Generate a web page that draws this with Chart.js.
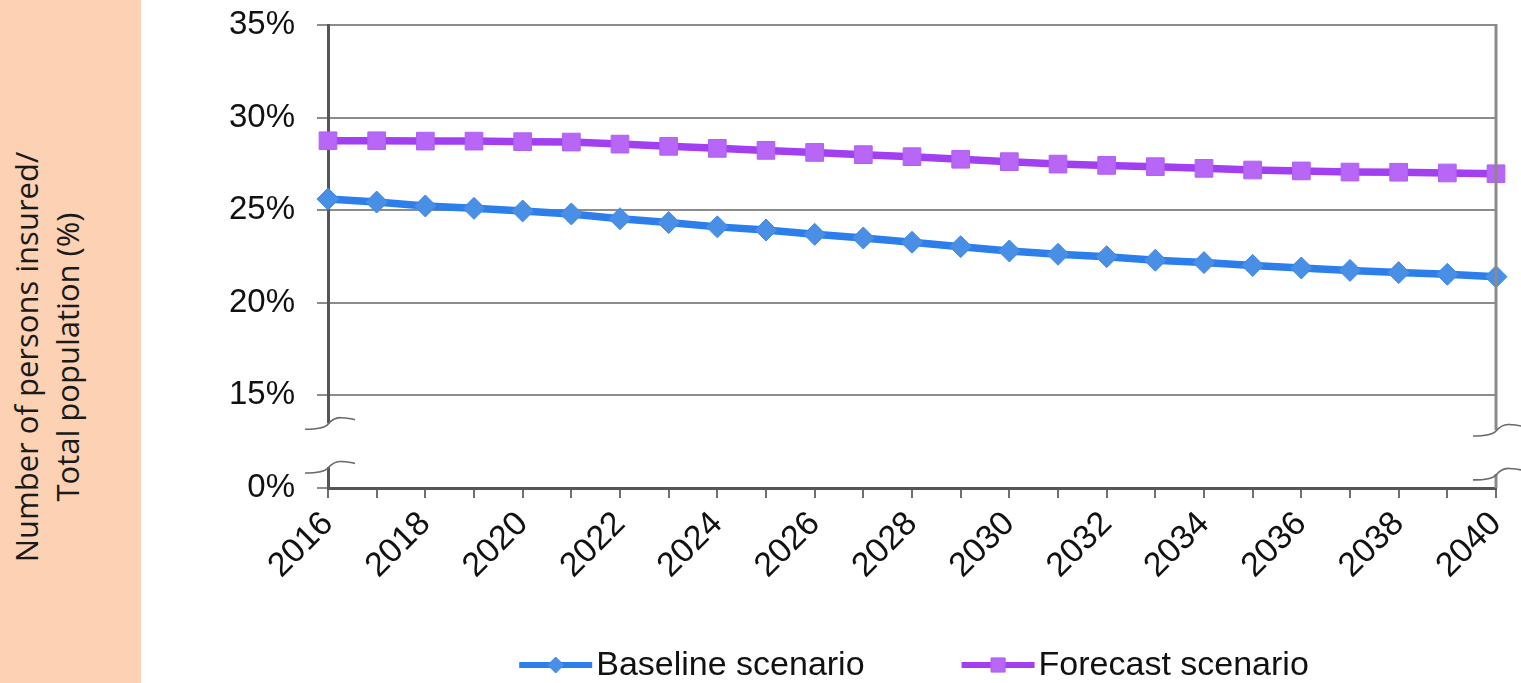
<!DOCTYPE html>
<html>
<head>
<meta charset="utf-8">
<script src="https://cdn.jsdelivr.net/npm/chart.js@4.4.1/dist/chart.umd.min.js"></script>
<style>
  html, body { margin: 0; padding: 0; background: #ffffff; }
  #page { position: relative; width: 1521px; height: 683px; overflow: hidden; }
  #side { position: absolute; left: 0; top: 0; width: 141px; height: 683px; background: #fdd1b3; }
  #side-title {
    position: absolute; left: 47px; top: 357px;
    transform: translate(-50%, -50%) rotate(-90deg);
    white-space: nowrap; text-align: center;
    font-family: "Open Sans", sans-serif; font-size: 31px; line-height: 41px; color: #1a1a1a;
  }
  #chart-wrap { position: absolute; left: 141px; top: 0; width: 1380px; height: 683px; }
</style>
</head>
<body>
<div id="page">
  <div id="side"><div id="side-title">Number of persons insured/<br>Total population (%)</div></div>
  <div id="chart-wrap"><canvas id="chart"></canvas></div>
</div>
<script>
const years = [2016, 2017, 2018, 2019, 2020, 2021, 2022, 2023, 2024, 2025, 2026, 2027, 2028,
  2029, 2030, 2031, 2032, 2033, 2034, 2035, 2036, 2037, 2038, 2039, 2040];

// share of insured persons in total population, %
const baselineValues = [25.6, 25.44, 25.23, 25.1, 24.96, 24.8, 24.54, 24.33, 24.1, 23.93, 23.7, 23.5, 23.27,
  23.03, 22.8, 22.62, 22.49, 22.3, 22.17, 22.02, 21.88, 21.75, 21.63, 21.54, 21.41];
const forecastValues = [28.75, 28.75, 28.73, 28.73, 28.7, 28.68, 28.57, 28.45, 28.34, 28.23, 28.12, 28.0, 27.89,
  27.75, 27.62, 27.49, 27.42, 27.35, 27.26, 27.17, 27.12, 27.06, 27.05, 27.01, 26.97];

const seriesLabels = ['Baseline scenario', 'Forecast scenario'];

// axis is broken between 0% and 15%: the bottom tick stands for 0%
const yTickLabels = { 10: '0%', 15: '15%', 20: '20%', 25: '25%', 30: '30%', 35: '35%' };

const tickFont = { family: '"Liberation Sans", Arial, sans-serif', size: 33 };

// legend: line with marker, then the label
const lineLegend = {
  id: 'lineLegend',
  afterDraw(chart) {
    const ctx = chart.ctx;
    const area = chart.chartArea;
    const y = chart.height - 18;
    const lineLen = 73;
    const textGap = 4;
    const itemGap = 97;

    ctx.save();
    ctx.font = '34px "Liberation Sans", Arial, sans-serif';
    ctx.textBaseline = 'middle';
    const items = chart.data.datasets.map(ds => ({ ds, w: lineLen + textGap + ctx.measureText(ds.label).width }));
    const total = items.reduce((s, it) => s + it.w, 0) + itemGap * (items.length - 1);
    let x = (area.left + area.right) / 2 - total / 2 + 2;

    items.forEach(({ ds, w }) => {
      ctx.strokeStyle = ds.borderColor;
      ctx.lineWidth = 6;
      ctx.beginPath();
      ctx.moveTo(x, y);
      ctx.lineTo(x + lineLen, y);
      ctx.stroke();

      ctx.fillStyle = ds.pointBackgroundColor;
      ctx.strokeStyle = ds.pointBorderColor;
      ctx.lineWidth = 1;
      Chart.helpers.drawPoint(ctx, { pointStyle: ds.pointStyle, radius: ds.pointStyle === 'rect' ? 10 : 8, borderWidth: 1 }, x + lineLen / 2, y);

      ctx.fillStyle = '#111111';
      ctx.textAlign = 'left';
      ctx.fillText(ds.label, x + lineLen + textGap, y + 1);
      x += w + itemGap;
    });
    ctx.restore();
  }
};

// right border and the break marks on both vertical sides
const axisBreak = {
  id: 'axisBreak',
  afterDraw(chart) {
    const ctx = chart.ctx;
    const area = chart.chartArea;
    const yScale = chart.scales.y;

    ctx.save();
    ctx.strokeStyle = '#8a8a8a';
    ctx.lineWidth = 3;
    ctx.beginPath();
    ctx.moveTo(area.right, area.top - 1);
    ctx.lineTo(area.right, area.bottom);
    ctx.stroke();

    const sides = [
      { x: area.left, hi: 13.5, lo: 11.13 },
      { x: area.right, hi: 13.13, lo: 10.76 }
    ];
    sides.forEach(s => {
      const yHi = yScale.getPixelForValue(s.hi);
      const yLo = yScale.getPixelForValue(s.lo);
      ctx.fillStyle = '#ffffff';
      ctx.fillRect(s.x - 4, yHi, 8, yLo - yHi);

      ctx.strokeStyle = '#6a6a6a';
      ctx.lineWidth = 1.6;
      [yHi, yLo].forEach(yc => {
        ctx.beginPath();
        ctx.moveTo(s.x - 23, yc + 6);
        ctx.quadraticCurveTo(s.x - 4, yc + 6, s.x, yc + 1);
        ctx.quadraticCurveTo(s.x + 6, yc - 6, s.x + 13, yc - 5.5);
        ctx.quadraticCurveTo(s.x + 22, yc - 5, s.x + 27, yc - 3.5);
        ctx.stroke();
      });
    });
    ctx.restore();
  }
};

const chart = new Chart(document.getElementById('chart'), {
  type: 'line',
  data: {
    labels: years,
    datasets: [
      {
        label: seriesLabels[0],
        data: baselineValues,
        borderColor: '#2c7eea',
        borderWidth: 7.5,
        pointStyle: 'rectRot',
        pointRadius: 11,
        pointBackgroundColor: '#4a8fe6',
        pointBorderColor: '#3f88e6',
        pointBorderWidth: 1,
        tension: 0
      },
      {
        label: seriesLabels[1],
        data: forecastValues,
        borderColor: '#a13ff1',
        borderWidth: 7.5,
        pointStyle: 'rect',
        pointRadius: 12.5,
        pointBackgroundColor: '#b866f6',
        pointBorderColor: '#b060f5',
        pointBorderWidth: 1,
        tension: 0
      }
    ]
  },
  options: {
    responsive: true,
    maintainAspectRatio: false,
    animation: false,
    layout: { padding: { left: 0, right: 25, top: 25, bottom: 95 } },
    plugins: {
      legend: { display: false },
      tooltip: { enabled: false }
    },
    scales: {
      x: {
        offset: false,
        grid: { drawOnChartArea: false, drawTicks: true, tickLength: 10, color: '#6f6f6f', lineWidth: 2 },
        border: { color: '#555555', width: 3 },
        ticks: {
          autoSkip: false,
          minRotation: 45,
          maxRotation: 45,
          padding: 6,
          color: '#111111',
          font: { family: tickFont.family, size: 34 },
          callback: (value, index) => (index % 2 === 0 ? String(years[index]) : '')
        },
        afterFit: scale => {
          scale.height = 100;
          scale.paddingRight = 0;
        }
      },
      y: {
        min: 10,
        max: 35,
        grid: { color: '#8c8c8c', lineWidth: 2, tickLength: 11 },
        border: { color: '#555555', width: 3 },
        ticks: {
          stepSize: 5,
          padding: 22,
          color: '#111111',
          font: tickFont,
          callback: value => yTickLabels[value]
        },
        afterFit: scale => {
          scale.width = 187;
          scale.paddingTop = 0;
        }
      }
    }
  },
  plugins: [lineLegend, axisBreak]
});
</script>
</body>
</html>
